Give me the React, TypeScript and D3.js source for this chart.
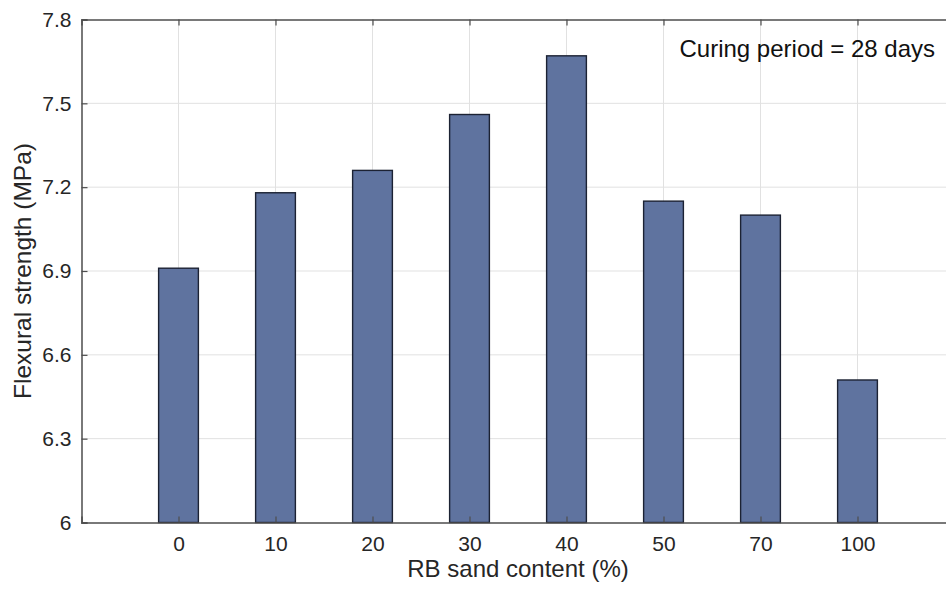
import React, { useEffect, useRef } from 'react';
import * as d3 from 'd3';

// RB sand content categories and 28-day flexural strength (MPa)
const categories = ['0', '10', '20', '30', '40', '50', '70', '100'];
const strength = [6.91, 7.18, 7.26, 7.46, 7.67, 7.15, 7.10, 6.51];
const yTicks = [6, 6.3, 6.6, 6.9, 7.2, 7.5, 7.8];
const xLabel = 'RB sand content (%)';
const yLabel = 'Flexural strength (MPa)';
const note = 'Curing period = 28 days';

const W = 946, H = 590;

export default function App() {
  const ref = useRef<SVGSVGElement>(null);

  useEffect(() => {
    const svg = d3.select(ref.current);
    svg.selectAll('*').remove();

    const left = 81.5, top = 19.5, bottom = 522.5, step = 97;
    const right = left + step * (categories.length + 1);
    const font = 'Arial, "Liberation Sans", sans-serif';
    const axisColor = '#4d4d4d';

    // slots 1..8 hold the bars, 0 and 9 are the empty margins
    const x = d3.scaleLinear().domain([0, categories.length + 1]).range([left, right]);
    const y = d3.scaleLinear().domain([6, 7.8]).range([bottom, top]);
    const barW = step * 0.41;

    const g = svg.append('g');

    // grid
    g.selectAll('line.hgrid')
      .data(yTicks.slice(1, -1))
      .enter().append('line')
      .attr('x1', left).attr('x2', right)
      .attr('y1', d => y(d)).attr('y2', d => y(d))
      .style('stroke', '#e1e1e1').style('stroke-width', 1);

    g.selectAll('line.vgrid')
      .data(categories)
      .enter().append('line')
      .attr('x1', (d, i) => x(i + 1)).attr('x2', (d, i) => x(i + 1))
      .attr('y1', top).attr('y2', bottom)
      .style('stroke', '#e1e1e1').style('stroke-width', 1);

    // bars
    g.selectAll('rect.bar')
      .data(strength)
      .enter().append('rect')
      .attr('x', (d, i) => x(i + 1) - barW / 2)
      .attr('width', barW)
      .attr('y', d => y(d))
      .attr('height', d => bottom - y(d))
      .style('fill', '#5f739f')
      .style('stroke', '#1c2233')
      .style('stroke-width', 1.4);

    // axes
    const yAxis = d3.axisLeft(y)
      .tickValues(yTicks)
      .tickSize(-6)
      .tickPadding(10)
      .tickFormat(d => d3.format('~g')(d as number));

    const xAxis = d3.axisBottom(x)
      .tickValues(categories.map((c, i) => i + 1))
      .tickSize(-6)
      .tickPadding(14)
      .tickFormat((d, i) => categories[i]);

    const xTop = d3.axisTop(x)
      .tickValues(categories.map((c, i) => i + 1))
      .tickSize(-6)
      .tickFormat(() => '');

    const ya = g.append('g').attr('transform', `translate(${left},0)`).call(yAxis);
    const xa = g.append('g').attr('transform', `translate(0,${bottom})`).call(xAxis);
    const ta = g.append('g').attr('transform', `translate(0,${top})`).call(xTop);

    [ya, xa, ta].forEach(a => {
      a.select('.domain').style('stroke', axisColor).style('stroke-width', 1.5);
      a.selectAll('.tick line').style('stroke', axisColor).style('stroke-width', 1.2);
      a.selectAll('.tick text')
        .style('font-family', font).style('font-size', '21px').style('fill', '#262626');
    });

    // labels
    g.append('text')
      .attr('x', (left + right) / 2).attr('y', 577)
      .attr('text-anchor', 'middle')
      .style('font-family', font).style('font-size', '24px').style('fill', '#262626')
      .text(xLabel);

    g.append('text')
      .attr('transform', `translate(31,${(top + bottom) / 2}) rotate(-90)`)
      .attr('text-anchor', 'middle')
      .style('font-family', font).style('font-size', '24.5px').style('fill', '#262626')
      .text(yLabel);

    g.append('text')
      .attr('x', 935).attr('y', 57)
      .attr('text-anchor', 'end')
      .style('font-family', font).style('font-size', '24px').style('fill', '#111')
      .text(note);
  }, []);

  return (
    <svg ref={ref} width={W} height={H}
      style={{ position: 'absolute', left: 0, top: 0, background: '#fff' }} />
  );
}
